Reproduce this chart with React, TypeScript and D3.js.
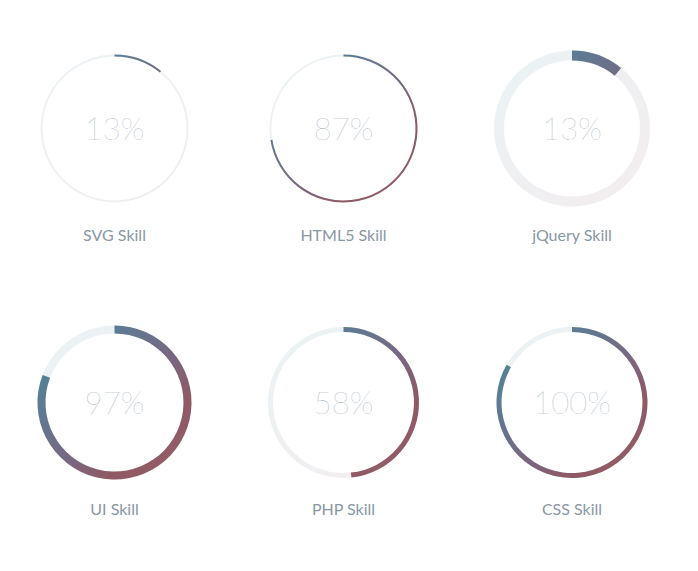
import React from "react";
import * as d3 from "d3";

const skills = ["SVG Skill", "HTML5 Skill", "jQuery Skill", "UI Skill", "PHP Skill", "CSS Skill"];
const values = [13, 87, 13, 97, 58, 100];
const thickness = [2, 2, 10, 8, 5, 5];

const W = 698;
const H = 571;
const R = 73;
const colX = [114.5, 343.5, 572];
const rowY = [128.5, 402.5];

export default function App() {
  // 100% of a skill maps to 300 degrees of sweep
  const angle = d3.scaleLinear().domain([0, 100]).range([0, (5 / 3) * Math.PI]);
  return (
    <svg width={W} height={H} style={{ position: "absolute", left: 0, top: 0, background: "#fff" }}>
      <defs>
        <linearGradient id="arcGrad" gradientUnits="userSpaceOnUse" x1={-R} y1={-R} x2={R} y2={R}>
          <stop offset="0" stopColor="#478899" />
          <stop offset="0.28" stopColor="#5e7a92" />
          <stop offset="0.55" stopColor="#7a6680" />
          <stop offset="0.75" stopColor="#8f5963" />
          <stop offset="1" stopColor="#946068" />
        </linearGradient>
        <linearGradient id="trackGrad" gradientUnits="userSpaceOnUse" x1={-R} y1={-R} x2={R} y2={R}>
          <stop offset="0" stopColor="#ebf2f4" />
          <stop offset="1" stopColor="#f3edef" />
        </linearGradient>
        <linearGradient id="textGrad" x1="0" y1="0" x2="1" y2="1">
          <stop offset="0" stopColor="#7e9ab2" />
          <stop offset="0.5" stopColor="#9aa6ba" />
          <stop offset="1" stopColor="#8a9cb4" />
        </linearGradient>
      </defs>
      {skills.map((name, i) => {
        const cx = colX[i % 3];
        const cy = rowY[Math.floor(i / 3)];
        const sw = thickness[i];
        const arcGen = d3.arc().innerRadius(R - sw / 2).outerRadius(R + sw / 2).startAngle(0);
        const track = arcGen({ endAngle: 2 * Math.PI } as any) as string;
        const bar = arcGen({ endAngle: angle(values[i]) } as any) as string;
        return (
          <g key={name} transform={`translate(${cx},${cy})`}>
            <path d={track} fill="url(#trackGrad)" />
            <path d={bar} fill="url(#arcGrad)" />
            <text
              x={0}
              y={11}
              textAnchor="middle"
              fontFamily="Lato"
              fontWeight={100}
              fontSize={31}
              fill="url(#textGrad)"
            >
              {values[i]}%
            </text>
            <text
              x={0}
              y={112.5}
              textAnchor="middle"
              fontFamily="Lato"
              fontSize={16}
              fill="#8a97a5"
            >
              {name}
            </text>
          </g>
        );
      })}
    </svg>
  );
}
